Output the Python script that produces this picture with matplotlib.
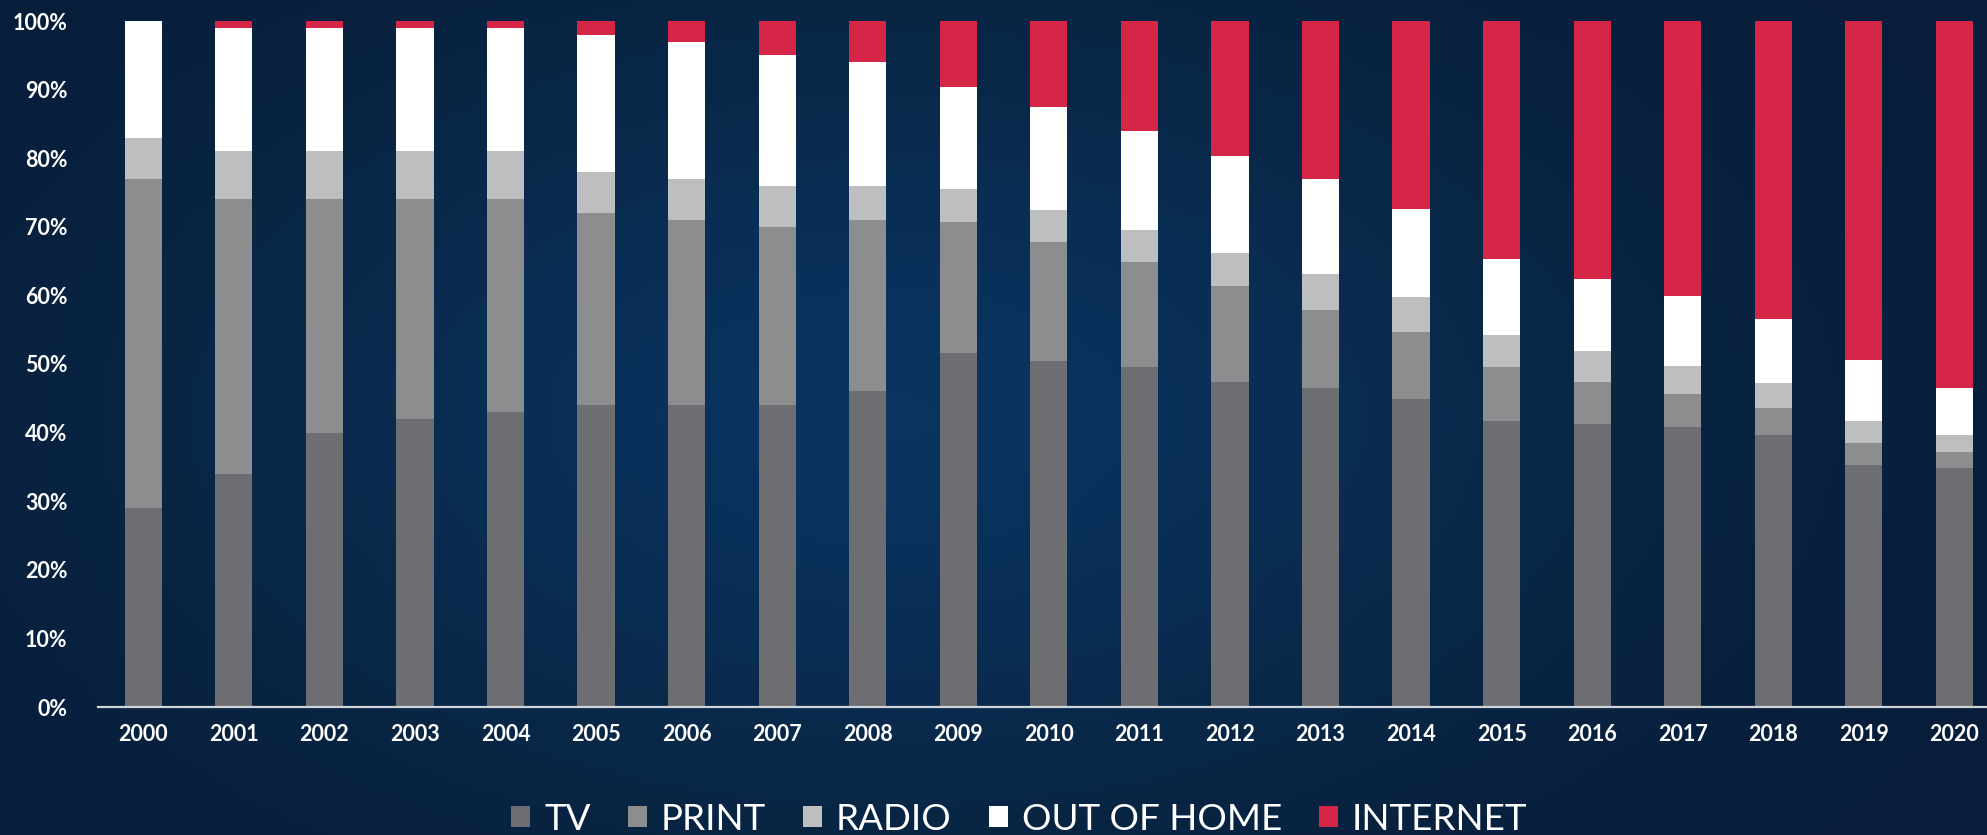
import numpy as np
import matplotlib.pyplot as plt
from matplotlib.patches import Patch
from matplotlib.colors import LinearSegmentedColormap

# Ad spend share by media (percent of total)
years = ['2000', '2001', '2002', '2003', '2004', '2005', '2006', '2007', '2008', '2009', '2010',
         '2011', '2012', '2013', '2014', '2015', '2016', '2017', '2018', '2019', '2020']
tv = [29, 34, 40, 42, 43, 44, 44, 44, 46, 51.6, 50.5,
      49.6, 47.4, 46.5, 44.9, 41.7, 41.3, 40.8, 39.7, 35.3, 34.9]
press = [48, 40, 34, 32, 31, 28, 27, 26, 25, 19.1, 17.3,
         15.3, 13.9, 11.4, 9.8, 7.9, 6.1, 4.8, 3.9, 3.2, 2.3]
radio = [6, 7, 7, 7, 7, 6, 6, 6, 5, 4.8, 4.7,
         4.7, 4.9, 5.2, 5.0, 4.7, 4.5, 4.1, 3.7, 3.2, 2.5]
ooh = [17, 18, 18, 18, 18, 20, 20, 19, 18, 14.9, 15.0,
       14.4, 14.1, 13.9, 12.9, 11.0, 10.5, 10.2, 9.2, 8.9, 6.8]
internet = [0, 1, 1, 1, 1, 2, 3, 5, 6, 9.6, 12.5,
            16.0, 19.7, 23.0, 27.4, 34.7, 37.6, 40.1, 43.5, 49.4, 53.5]

labels = ['TV', 'PRINT', 'RADIO', 'OUT OF HOME', 'INTERNET']
colors = ['#6d6e71', '#8c8d8f', '#bdbec0', '#ffffff', '#d62647']
series = [tv, press, radio, ooh, internet]

plt.rcParams['font.family'] = ['Lato', 'DejaVu Sans']

fig = plt.figure(figsize=(19.87, 8.35), dpi=100)

# dark navy background with a soft lighter blue glow
bg = fig.add_axes([0, 0, 1, 1], zorder=-10)
gx, gy = np.meshgrid(np.linspace(0, 1, 400), np.linspace(0, 1, 200))
glow = np.exp(-(((gx - 0.45) / 0.38) ** 2 + ((gy - 0.5) / 0.5) ** 2))
cmap = LinearSegmentedColormap.from_list('navy', ['#071c38', '#092848', '#0a3360'])
bg.imshow(glow, cmap=cmap, aspect='auto', extent=[0, 1, 0, 1], vmin=0, vmax=1)
bg.axis('off')

ax = fig.add_axes([98 / 1987, 128 / 835, 1 - 98 / 1987, 686 / 835])
ax.set_facecolor('none')

x = np.arange(len(years))
bottom = np.zeros(len(years))
for vals, lab, col in zip(series, labels, colors):
    ax.bar(x, vals, width=0.41, bottom=bottom, color=col, label=lab, linewidth=0)
    bottom += np.array(vals)

ax.set_xlim(-0.5, 20.36)
ax.set_ylim(0, 100)
ax.set_yticks(np.arange(0, 101, 10))
ax.set_yticklabels([f'{v}%' for v in range(0, 101, 10)])
ax.set_xticks(x)
ax.set_xticklabels(years)
ax.tick_params(axis='y', length=0, pad=22, labelsize=15.5, labelcolor='white')
ax.tick_params(axis='x', length=0, pad=12, labelsize=15.5, labelcolor='white')
for t in ax.get_xticklabels() + ax.get_yticklabels():
    t.set_fontweight('bold')

for s in ['top', 'right', 'left']:
    ax.spines[s].set_visible(False)
ax.spines['bottom'].set_color('#d0d3d8')
ax.spines['bottom'].set_linewidth(1.6)

handles = [Patch(facecolor=c, edgecolor='none', label=l) for l, c in zip(labels, colors)]
fig.legend(handles=handles, loc='center', bbox_to_anchor=(0.513, 0.019), ncol=5,
           frameon=False, fontsize=26.5, labelcolor='white', handlelength=0.52,
           handleheight=0.5, handletextpad=0.38, columnspacing=1.0, borderpad=0)

fig.savefig('out.png', dpi=100)
